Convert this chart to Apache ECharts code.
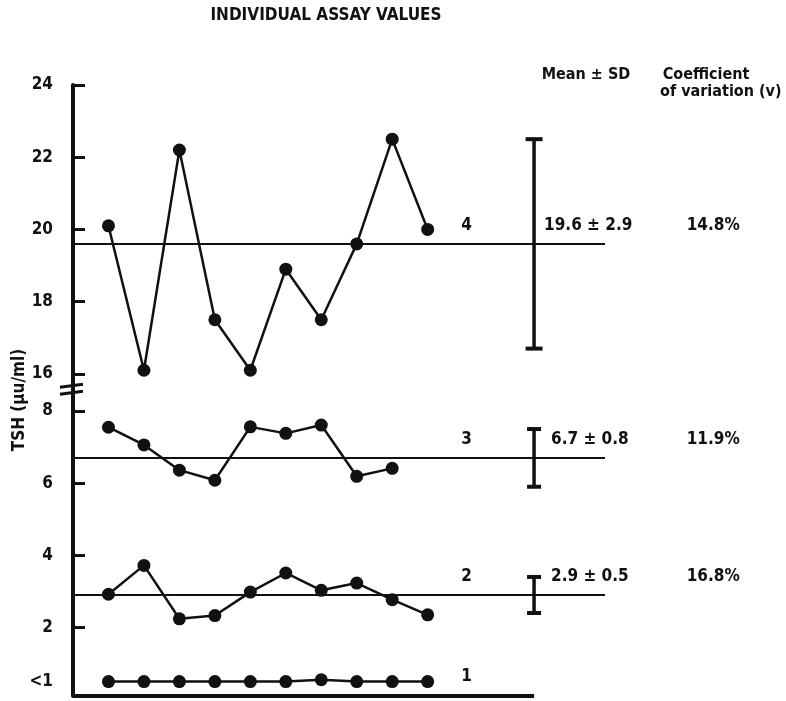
<!DOCTYPE html>
<html>
<head>
<meta charset="utf-8">
<script src="https://cdn.jsdelivr.net/npm/echarts@6/dist/echarts.min.js"></script>
<style>
  html, body { margin: 0; padding: 0; background: #fff; }
  #chart { width: 786px; height: 701px; }
</style>
</head>
<body>
<div id="chart"></div>
<script>
// Assay run number (x) and TSH values (μu/ml) for the four samples
const runs = [1, 2, 3, 4, 5, 6, 7, 8, 9, 10];
const group4 = [20.1, 16.1, 22.2, 17.5, 16.1, 18.9, 17.5, 19.6, 22.5, 20.0];
const group3 = [7.55, 7.06, 6.36, 6.08, 7.56, 7.38, 7.61, 6.19, 6.41];
const group2 = [2.92, 3.72, 2.24, 2.33, 2.98, 3.51, 3.03, 3.23, 2.77, 2.35];
const group1 = [0.5, 0.5, 0.5, 0.5, 0.5, 0.5, 0.55, 0.5, 0.5, 0.5];

// Summary statistics per sample
const groupNames = ['1', '2', '3', '4'];
const groupMeans = [null, 2.9, 6.7, 19.6];
const groupSDs = [null, 0.5, 0.8, 2.9];
const groupCVs = [null, 16.8, 11.9, 14.8];

// Axis tick values (broken y axis: lower 0-8, upper 16-24)
const upperTicks = [16, 18, 20, 22, 24];
const lowerTicks = [2, 4, 6, 8];
const lowerLabelValues = [0.5, 2, 4, 6, 8];

const INK = '#111';
const FONT = "'Liberation Sans Narrow','DejaVu Sans Condensed','Liberation Sans',sans-serif";

const X_MAX = 15;        // mean lines run to the right edge of this range
const BAR_X = 13;        // position of the mean ± SD bars / end of baseline
const LABEL_X = 11.1;    // sample number labels
const CV_X = 18.05;      // coefficient of variation column
const LOWER_MIN = 0.1;

const pairs = (ys) => ys.map((v, i) => [runs[i], v]);

function yAxisBase(ticks, labels, fmt) {
  return {
    type: 'value',
    splitLine: { show: false },
    axisLine: { show: true, lineStyle: { color: INK, width: 4 } },
    axisTick: { show: true, inside: true, length: 12, customValues: ticks, lineStyle: { color: INK, width: 3 } },
    axisLabel: {
      show: true, customValues: labels, margin: 20, color: INK,
      fontFamily: FONT, fontWeight: 'bold', fontSize: 17,
      formatter: fmt
    }
  };
}

function renderStats(params, api) {
  const gi = api.value(2);
  const textStyle = (text, x, y, align) => ({
    type: 'text',
    style: { text, x, y, align, verticalAlign: 'middle', fill: INK,
             fontFamily: FONT, fontWeight: 'bold', fontSize: 17 }
  });
  const children = [];
  if (groupMeans[gi] == null) {
    const p = api.coord([LABEL_X, LOWER_MIN]);
    children.push(textStyle(groupNames[gi], p[0], p[1] - 19, 'center'));
    return { type: 'group', children };
  }
  const m = groupMeans[gi], s = groupSDs[gi];
  const a = api.coord([0, m]), b = api.coord([X_MAX, m]);
  children.push({ type: 'line', shape: { x1: a[0], y1: a[1], x2: b[0], y2: b[1] },
                  style: { stroke: INK, lineWidth: 2 } });
  const top = api.coord([BAR_X, m + s]), bot = api.coord([BAR_X, m - s]);
  const cap = gi === 3 ? 8.5 : 7;
  children.push({ type: 'line', shape: { x1: top[0], y1: top[1], x2: bot[0], y2: bot[1] },
                  style: { stroke: INK, lineWidth: 3.5 } });
  children.push({ type: 'line', shape: { x1: top[0] - cap, y1: top[1], x2: top[0] + cap, y2: top[1] },
                  style: { stroke: INK, lineWidth: 4 } });
  children.push({ type: 'line', shape: { x1: bot[0] - cap, y1: bot[1], x2: bot[0] + cap, y2: bot[1] },
                  style: { stroke: INK, lineWidth: 4 } });
  const lab = api.coord([LABEL_X, m]);
  children.push(textStyle(groupNames[gi], lab[0], lab[1] - 18, 'center'));
  const mid = api.coord([BAR_X, m]);
  const gap = gi === 3 ? 10 : 17;
  children.push(textStyle(m.toFixed(1) + ' \u00b1 ' + s.toFixed(1), mid[0] + gap, mid[1] - 18, 'left'));
  const cv = api.coord([CV_X, m]);
  children.push(textStyle(groupCVs[gi].toFixed(1) + '%', cv[0], cv[1] - 18, 'center'));
  return { type: 'group', children };
}

const lineSeries = (data, xi) => ({
  type: 'line', xAxisIndex: xi, yAxisIndex: xi, data,
  symbol: 'circle', symbolSize: 13, showSymbol: true,
  itemStyle: { color: INK }, lineStyle: { color: INK, width: 2.5 },
  animation: false, z: 3
});

const chart = echarts.init(document.getElementById('chart'), null, { renderer: 'canvas' });

chart.setOption({
  animation: false,
  backgroundColor: '#fff',
  grid: [
    { left: 73, top: 85, width: 532, height: 325 },
    { left: 73, top: 411, width: 532, height: 285 }
  ],
  xAxis: [
    { type: 'value', gridIndex: 0, min: 0, max: X_MAX, show: false },
    { type: 'value', gridIndex: 1, min: 0, max: X_MAX, show: false }
  ],
  yAxis: [
    Object.assign(yAxisBase(upperTicks, upperTicks, (v) => String(v)), { gridIndex: 0, min: 15, max: 24 }),
    Object.assign(yAxisBase(lowerTicks, lowerLabelValues, (v) => (v < 1 ? '<1' : String(v))),
                  { gridIndex: 1, min: LOWER_MIN, max: 8 })
  ],
  series: [
    {
      type: 'custom', xAxisIndex: 0, yAxisIndex: 0, clip: false, z: 2,
      renderItem: renderStats,
      data: [[BAR_X, groupMeans[3], 3]]
    },
    {
      type: 'custom', xAxisIndex: 1, yAxisIndex: 1, clip: false, z: 2,
      renderItem: renderStats,
      data: [[BAR_X, groupMeans[2], 2], [BAR_X, groupMeans[1], 1], [LABEL_X, LOWER_MIN, 0]]
    },
    {
      // baseline along the bottom of the lower panel
      type: 'line', xAxisIndex: 1, yAxisIndex: 1, symbol: 'none',
      data: [[0, LOWER_MIN], [BAR_X, LOWER_MIN]],
      lineStyle: { color: INK, width: 4 }, z: 4, silent: true
    },
    lineSeries(pairs(group4), 0),
    lineSeries(pairs(group3), 1),
    lineSeries(pairs(group2), 1),
    lineSeries(pairs(group1), 1)
  ]
});

// Headings, axis title and the axis-break mark
const axisX = chart.convertToPixel({ xAxisIndex: 0 }, 0);
const breakY = chart.convertToPixel({ yAxisIndex: 0 }, 15.6);
const hdr = (text, x, y, align, size) => ({
  type: 'text', x, y,
  style: { text, align: align, verticalAlign: 'middle', fill: INK,
           fontFamily: FONT, fontWeight: 'bold', fontSize: size }
});
chart.setOption({
  graphic: [
    hdr('INDIVIDUAL ASSAY VALUES', 326, 16, 'center', 17),
    hdr('Mean \u00b1 SD', 586, 75, 'center', 16),
    hdr('Coefficient', 706, 75, 'center', 16),
    hdr('of variation (v)', 660, 92, 'left', 16),
    {
      type: 'text', x: 20, y: 400, rotation: Math.PI / 2,
      style: { text: 'TSH (\u03bcu/ml)', align: 'center', verticalAlign: 'middle', fill: INK,
               fontFamily: FONT, fontWeight: 'bold', fontSize: 17 }
    },
    {
      type: 'line', shape: { x1: axisX - 13, y1: breakY - 1, x2: axisX + 10, y2: breakY - 4 },
      style: { stroke: INK, lineWidth: 3 }
    },
    {
      type: 'line', shape: { x1: axisX - 13, y1: breakY + 6, x2: axisX + 10, y2: breakY + 3 },
      style: { stroke: INK, lineWidth: 3 }
    }
  ]
});
</script>
</body>
</html>
